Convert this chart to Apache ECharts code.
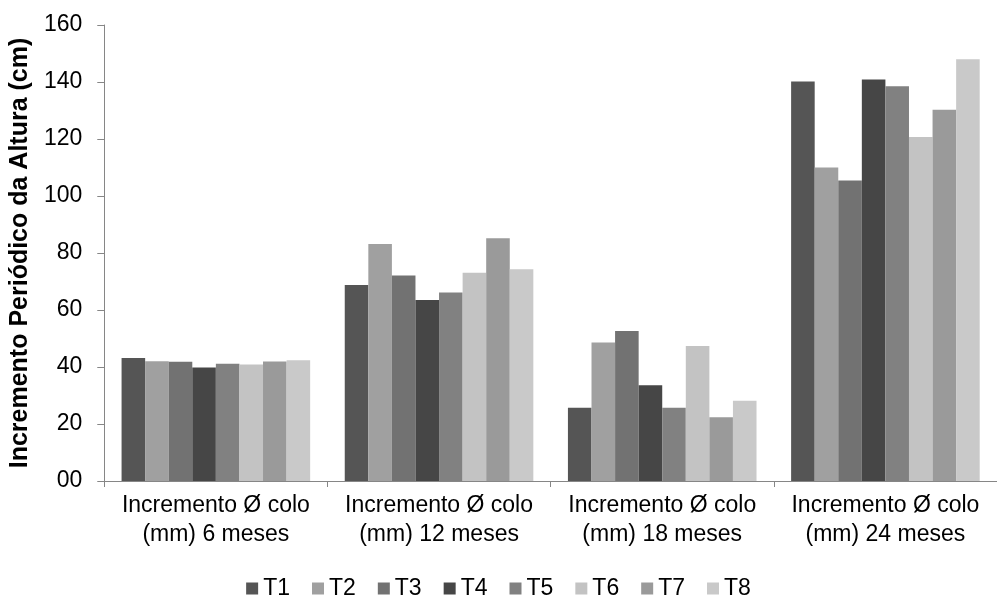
<!DOCTYPE html>
<html>
<head>
<meta charset="utf-8">
<script src="https://cdn.jsdelivr.net/npm/echarts@6/dist/echarts.min.js"></script>
<style>
html,body{margin:0;padding:0;background:#fff;}
#chart{width:997px;height:597px;}
</style>
</head>
<body>
<div id="chart"></div>
<script>
var categories = ['Incremento Ø colo\n(mm) 6 meses','Incremento Ø colo\n(mm) 12 meses','Incremento Ø colo\n(mm) 18 meses','Incremento Ø colo\n(mm) 24 meses'];
var seriesNames = ['T1','T2','T3','T4','T5','T6','T7','T8'];
var seriesColors = ['#555555','#a0a0a0','#727272','#464646','#818181','#c3c3c3','#9a9a9a','#c9c9c9'];
var T1 = [43.2, 68.8, 25.7, 140.2];
var T2 = [42.0, 83.2, 48.6, 110.0];
var T3 = [41.8, 72.1, 52.6, 105.4];
var T4 = [39.8, 63.5, 33.6, 140.9];
var T5 = [41.1, 66.1, 25.7, 138.5];
var T6 = [40.9, 73.1, 47.4, 120.7];
var T7 = [41.9, 85.2, 22.4, 130.3];
var T8 = [42.4, 74.3, 28.2, 148.0];
var seriesValues = [T1,T2,T3,T4,T5,T6,T7,T8];
var yTickLabels = ['00','20','40','60','80','100','120','140','160'];
var yAxisTitle = 'Incremento Periódico da Altura (cm)';

var FONT = '"Liberation Sans", Arial, sans-serif';
var chart = echarts.init(document.getElementById('chart'), null, {renderer:'canvas'});
var series = seriesNames.map(function(n,i){
  return {
    name: n, type: 'bar', data: seriesValues[i],
    barGap: '0%', barCategoryGap: '15.5%',
    itemStyle: {color: seriesColors[i]},
    emphasis: {disabled: true}
  };
});
chart.setOption({
  animation: false,
  color: seriesColors,
  grid: {left: 104, top: 25, width: 897, height: 456, containLabel: false},
  legend: {
    data: seriesNames, left: 'center', top: 572,
    itemWidth: 12, itemHeight: 12, itemGap: 22,
    icon: 'rect',
    textStyle: {fontFamily: FONT, fontSize: 23, color: '#000', padding: [0,0,0,0]}
  },
  xAxis: {
    type: 'category', data: categories,
    axisLine: {lineStyle: {color: '#868686', width: 1}},
    axisTick: {show: true, length: 6, lineStyle: {color: '#868686'}},
    axisLabel: {fontFamily: FONT, fontSize: 23, color: '#000', lineHeight: 29, margin: 10, interval: 0}
  },
  yAxis: {
    type: 'value', min: 0, max: 160, interval: 20,
    name: yAxisTitle, nameLocation: 'middle', nameGap: 70,
    nameTextStyle: {fontFamily: FONT, fontSize: 25, fontWeight: 'bold', color: '#000'},
    axisLine: {show: true, lineStyle: {color: '#868686', width: 1}},
    axisTick: {show: true, length: 7, lineStyle: {color: '#868686'}},
    splitLine: {show: false},
    axisLabel: {fontFamily: FONT, fontSize: 23, color: '#000', margin: 22,
      formatter: function(v){ return yTickLabels[Math.round(v/20)]; }}
  },
  series: series
});
</script>
</body>
</html>
